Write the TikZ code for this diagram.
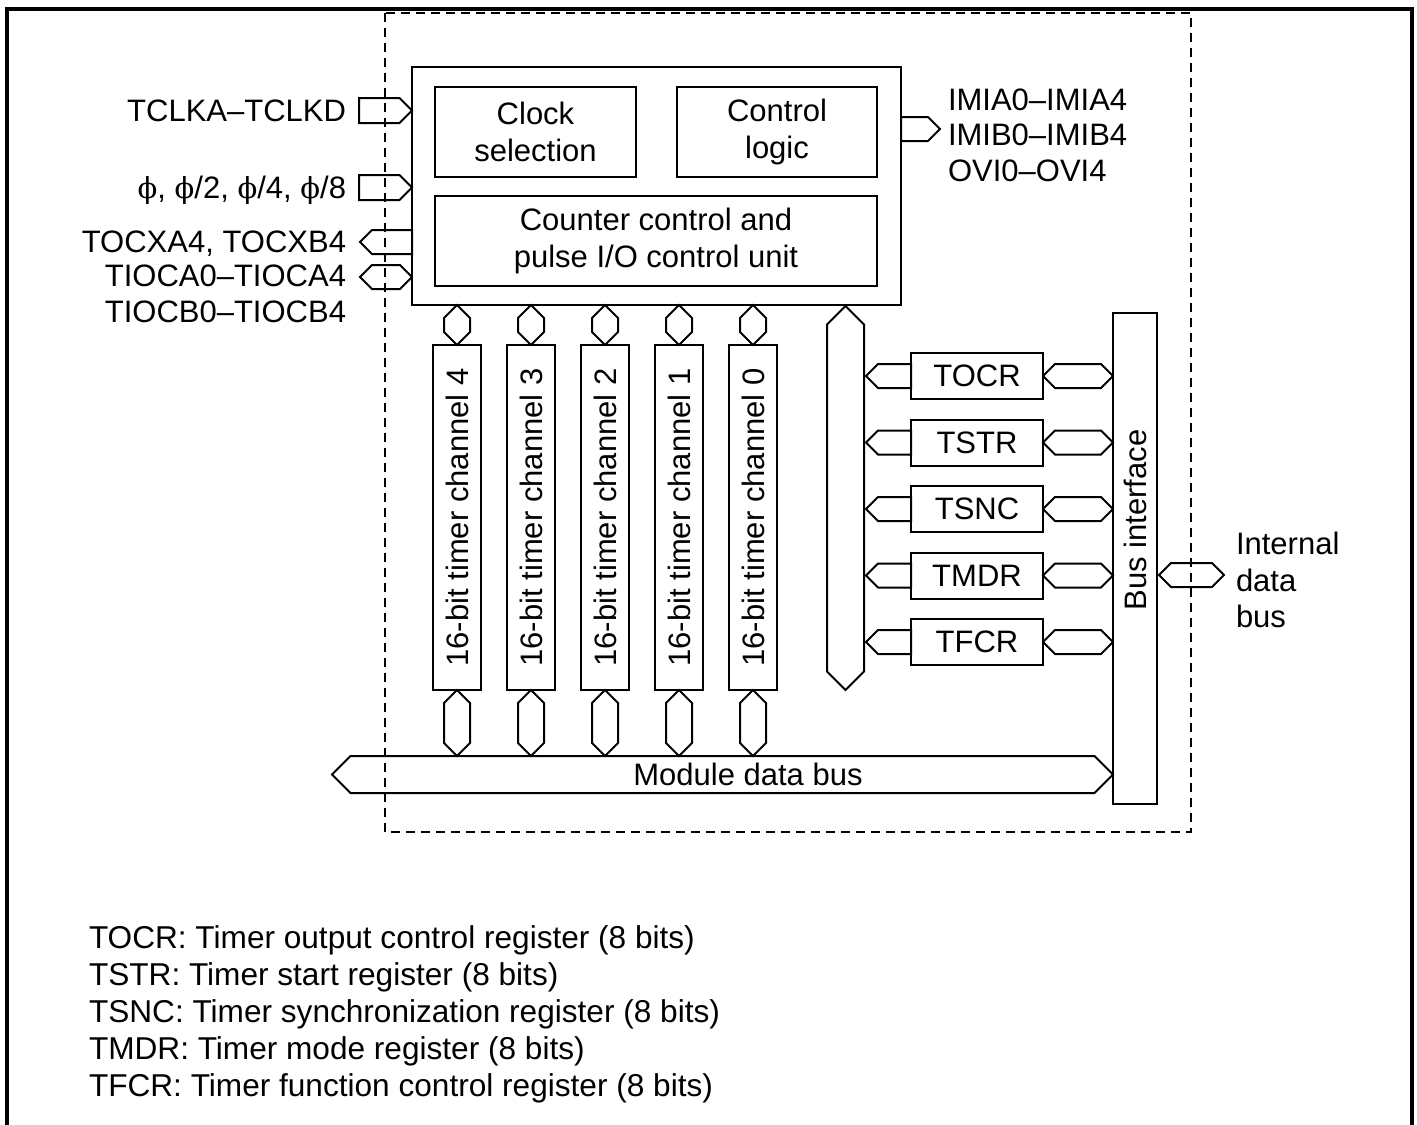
\documentclass[tikz,border=0pt]{standalone}
\usepackage{fontspec}
\setmainfont{Liberation Sans}
\newfontfamily\phifont{DejaVu Serif}
\usetikzlibrary{calc}

% block arrows: #1 and #2 are the two ends, #3 half of the width
\newcommand{\dblbus}[3]{\draw (#1) -- ($(#1)+(#3,-#3)$) -- ($(#2)+(-#3,-#3)$) -- (#2) -- ($(#2)+(-#3,#3)$) -- ($(#1)+(#3,#3)$) -- cycle;}
\newcommand{\vdblbus}[3]{\draw (#1) -- ($(#1)+(#3,#3)$) -- ($(#2)+(#3,-#3)$) -- (#2) -- ($(#2)+(-#3,-#3)$) -- ($(#1)+(-#3,#3)$) -- cycle;}
\newcommand{\inbus}[3]{\draw ($(#1)+(0,-#3)$) -- ($(#2)+(-#3,-#3)$) -- (#2) -- ($(#2)+(-#3,#3)$) -- ($(#1)+(0,#3)$) -- cycle;}
\newcommand{\outbus}[3]{\draw (#1) -- ($(#1)+(#3,-#3)$) -- ($(#2)+(0,-#3)$) -- ($(#2)+(0,#3)$) -- ($(#1)+(#3,#3)$) -- cycle;}
\newcommand{\ph}{{\phifont\fontsize{29}{37}\selectfont ϕ}}

\begin{document}
\begin{tikzpicture}[x=1pt, y=-1pt, line width=2pt,
	every node/.style={font=\fontsize{31}{37}\selectfont, inner sep=0pt},
	box/.style={draw, outer sep=0pt},
	regbox/.style={box, minimum width=132, minimum height=46},
	legend/.style={anchor=base west, font=\fontsize{31.6}{37}\selectfont}]
	\useasboundingbox (0,0) rectangle (1417,1125);
	\draw[line width=3.5pt] (7,1125) -- (7,9) -- (1412,9) -- (1412,1125);
	\draw[dash pattern=on 9pt off 6pt] (385,13) rectangle (1191,832);
	
	\node[box, minimum width=489, minimum height=238] (main) at (656.5,186) {};
	\node[box, minimum width=201, minimum height=90, align=center] (clksel) at (535.5,132) {Clock\\selection};
	\node[box, minimum width=200, minimum height=90, align=center] (ctrl) at (777,132) {Control\\logic};
	\node[box, minimum width=442, minimum height=90, align=center] (cnt) at (656,241) {Counter control and\\pulse I/O control unit};
	
	\node[anchor=base east] (tclk) at (347,121) {TCLKA–TCLKD};
	\node[anchor=base east] (phi) at (347,198) {\ph, \ph/2, \ph/4, \ph/8};
	\node[anchor=base east] (tocx) at (347,252) {TOCXA4, TOCXB4};
	\node[anchor=base east] (tioca) at (347,286) {TIOCA0–TIOCA4};
	\node[anchor=base east] (tiocb) at (347,322) {TIOCB0–TIOCB4};
	
	\coordinate (tclkin) at (359,110.5);
	\coordinate (tclkout) at (main.west |- tclkin);
	\coordinate (phiin) at (359,187.5);
	\coordinate (phiout) at (main.west |- phiin);
	\coordinate (tocxtip) at (360,242);
	\coordinate (tocxend) at (main.west |- tocxtip);
	\coordinate (tiocatip) at (360,277);
	\coordinate (tiocaend) at (main.west |- tiocatip);
	\inbus{tclkin}{tclkout}{12.5}
	\inbus{phiin}{phiout}{12.5}
	\outbus{tocxtip}{tocxend}{12}
	\dblbus{tiocatip}{tiocaend}{12}
	
	\node[anchor=base west] (imia) at (947,110) {IMIA0–IMIA4};
	\node[anchor=base west] (imib) at (947,145) {IMIB0–IMIB4};
	\node[anchor=base west] (ovi) at (947,181) {OVI0–OVI4};
	\coordinate (imitip) at (940,129);
	\coordinate (imiin) at (main.east |- imitip);
	\inbus{imiin}{imitip}{12}
	
	\node[box, minimum width=44, minimum height=491] (busif) at (1135,558.5) {};
	\node[rotate=90] at (1135,520) {Bus interface};
	
	\coordinate (mbusl) at (332,774.5);
	\coordinate (mbusr) at (busif.west |- mbusl);
	\coordinate (mbustop) at (0,756);
	\dblbus{mbusl}{mbusr}{18.5}
	\node (mbus) at (748,774.5) {Module data bus};
	
	\foreach \n/\x in {4/457,3/531,2/605,1/679,0/753} {
		\node[box, minimum width=48, minimum height=345] (ch\n) at (\x,517.5) {};
		\node[rotate=90] at (ch\n) {16-bit timer channel \n};
		\coordinate (ch\n t) at (ch\n.north |- main.south);
		\coordinate (ch\n b) at (ch\n.south |- mbustop);
		\vdblbus{ch\n t}{ch\n.north}{13}
		\vdblbus{ch\n.south}{ch\n b}{13}
	}
	
	\coordinate (vbust) at (845.5,306);
	\coordinate (vbusb) at (845.5,690);
	\vdblbus{vbust}{vbusb}{18.5}
	
	\foreach \r/\y in {TOCR/376,TSTR/442.5,TSNC/509,TMDR/575.5,TFCR/642} {
		\node[regbox] (\r) at (977,\y) {\r};
		\coordinate (\r l) at (866,\y);
		\coordinate (\r r) at (busif.west |- \r);
		\outbus{\r l}{\r.west}{12}
		\dblbus{\r.east}{\r r}{12}
	}
	
	\coordinate (idbl) at (1159,575);
	\coordinate (idbr) at (1224,575);
	\dblbus{idbl}{idbr}{12}
	\node[anchor=base west] (idb1) at (1235,554) {Internal};
	\node[anchor=base west] (idb2) at (1235,591) {data};
	\node[anchor=base west] (idb3) at (1235,627) {bus};
	
	\node[legend] (lgtocr) at (88,948) {TOCR: Timer output control register (8 bits)};
	\node[legend] (lgtstr) at (88,985) {TSTR: Timer start register (8 bits)};
	\node[legend] (lgtsnc) at (88,1022) {TSNC: Timer synchronization register (8 bits)};
	\node[legend] (lgtmdr) at (88,1059) {TMDR: Timer mode register (8 bits)};
	\node[legend] (lgtfcr) at (88,1096) {TFCR: Timer function control register (8 bits)};
\end{tikzpicture}
\end{document}
